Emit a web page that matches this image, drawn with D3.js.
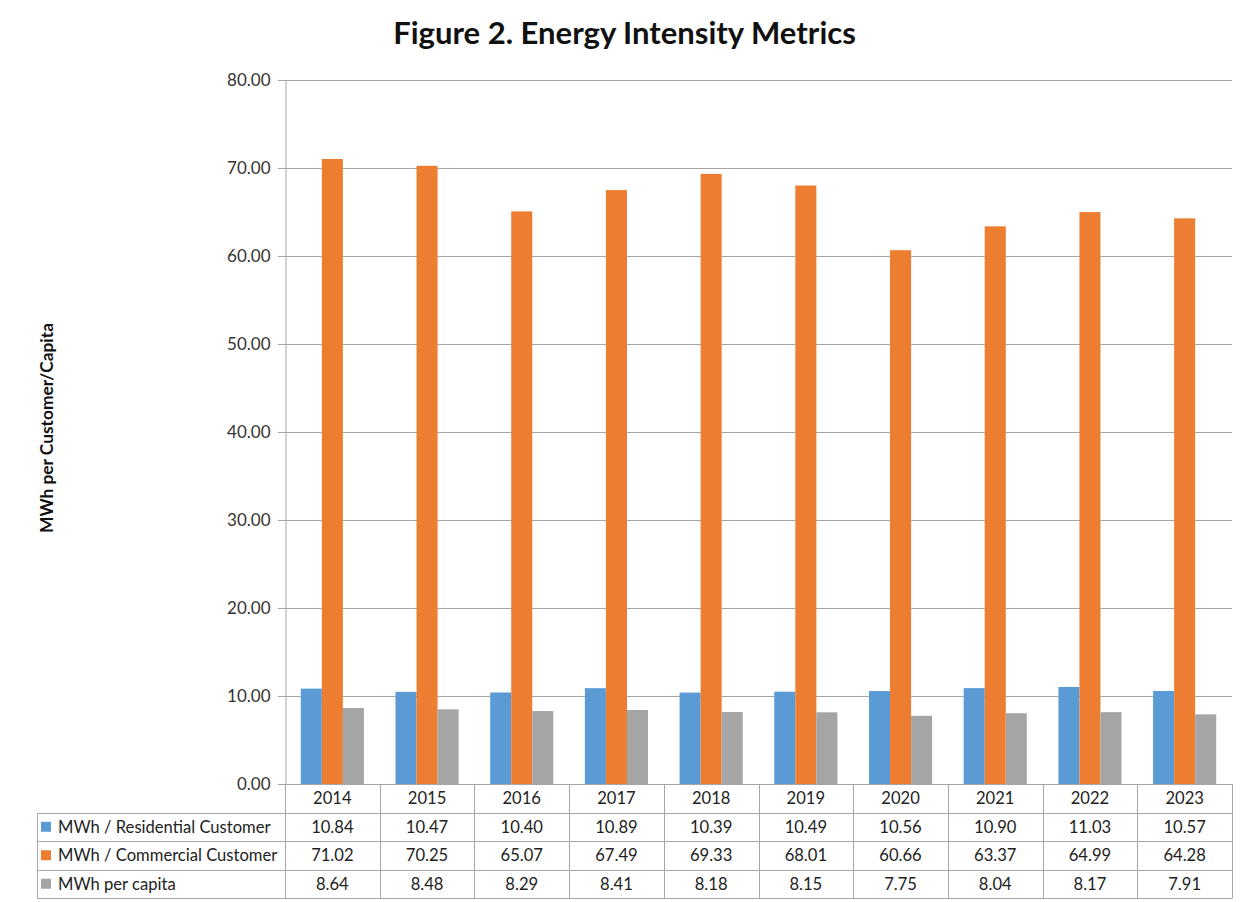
<!DOCTYPE html>
<html>
<head>
<meta charset="utf-8">
<script src="https://cdn.jsdelivr.net/npm/d3@7"></script>
<style>
  html, body { margin: 0; padding: 0; background: #fff; }
  svg { display: block; font-family: Lato, "Open Sans", sans-serif; }
</style>
</head>
<body>
<svg id="chart" width="1250" height="902"></svg>
<script>
const years = ["2014","2015","2016","2017","2018","2019","2020","2021","2022","2023"];
const seriesNames = ["MWh / Residential Customer","MWh / Commercial Customer","MWh per capita"];
const residential = [10.84,10.47,10.40,10.89,10.39,10.49,10.56,10.90,11.03,10.57];
const commercial  = [71.02,70.25,65.07,67.49,69.33,68.01,60.66,63.37,64.99,64.28];
const perCapita   = [8.64,8.48,8.29,8.41,8.18,8.15,7.75,8.04,8.17,7.91];
const yTicks = [0,10,20,30,40,50,60,70,80];
const colors = ["#5B9BD5","#ED7D31","#A5A5A5"];
const titleText = "Figure 2. Energy Intensity Metrics";
const yTitle = "MWh per Customer/Capita";

(function () {
const seriesValues = [residential, commercial, perCapita];

const svg = d3.select("#chart");
const pLeft = 285, pRight = 1232, pTop = 80, pBottom = 784;
const gridColor = "#A6A6A6";
const tableColor = "#A6A6A6";
const tableFont = 16.6;

const x0 = d3.scaleBand().domain(years).range([pLeft, pRight]).padding(0);
const x1 = d3.scaleBand().domain(d3.range(seriesNames.length))
  .range([0, x0.bandwidth()]).paddingInner(0).paddingOuter(0.75);
const y = d3.scaleLinear().domain([0, 80]).range([pBottom, pTop]);

function fitText(sel, target) {
  const w = sel.node().getComputedTextLength();
  const fs = parseFloat(sel.attr("font-size"));
  sel.attr("font-size", fs * target / w);
}
const t = svg.append("text").attr("x", (393 + 856) / 2).attr("y", 44)
  .attr("text-anchor", "middle").attr("font-weight", "bold")
  .attr("font-size", 28).attr("fill", "#111").text(titleText);
fitText(t, 463);

const yt = svg.append("text")
  .attr("transform", `translate(53,428) rotate(-90)`)
  .attr("text-anchor", "middle").attr("font-weight", "bold")
  .attr("font-size", 14).attr("fill", "#111").text(yTitle);
fitText(yt, 210);

// Grid lines
svg.append("g").selectAll("line").data(yTicks).join("line")
  .attr("x1", pLeft - 7).attr("x2", pRight)
  .attr("y1", d => Math.round(y(d)) + 0.5).attr("y2", d => Math.round(y(d)) + 0.5)
  .attr("stroke", gridColor).attr("stroke-width", 1);

// Y axis
const yAxis = d3.axisLeft(y).tickValues(yTicks).tickFormat(d3.format(".2f")).tickSize(0).tickPadding(15);
const ya = svg.append("g").attr("transform", `translate(${pLeft + 0.5},0.5)`).call(yAxis);
ya.select(".domain").attr("stroke", gridColor);
ya.selectAll("text").attr("font-size", 17).attr("fill", "#333").attr("font-family", "Lato, sans-serif");

// Bars
const groups = svg.append("g").selectAll("g").data(years).join("g")
  .attr("transform", d => `translate(${x0(d)},0)`);
groups.selectAll("rect")
  .data((d, i) => seriesValues.map((vals, s) => ({ s, v: vals[i] })))
  .join("rect")
  .attr("x", d => x1(d.s)).attr("width", x1.bandwidth())
  .attr("y", d => y(d.v)).attr("height", d => y(0) - y(d.v))
  .attr("fill", d => colors[d.s]);

// Data table
const rowH = 28.5;
const tableLeft = 37;
const rowsTop = pBottom + rowH;
const tbl = svg.append("g");
tbl.selectAll("text.yr").data(years).join("text").attr("class", "yr")
  .attr("x", d => x0(d) + x0.bandwidth() / 2).attr("y", pBottom + rowH / 2)
  .attr("dy", "0.35em").attr("text-anchor", "middle")
  .attr("font-size", tableFont).attr("fill", "#222").text(d => d);
const hLines = d3.range(seriesNames.length + 1).map(i => rowsTop + i * rowH);
tbl.selectAll("line.h").data(hLines).join("line").attr("class", "h")
  .attr("x1", tableLeft).attr("x2", pRight)
  .attr("y1", d => Math.round(d) + 0.5).attr("y2", d => Math.round(d) + 0.5)
  .attr("stroke", tableColor);
const vX = years.map(d => x0(d)).concat([pRight]);
const tableBottom = rowsTop + seriesNames.length * rowH;
tbl.selectAll("line.v").data(vX).join("line").attr("class", "v")
  .attr("x1", d => Math.round(d) + 0.5).attr("x2", d => Math.round(d) + 0.5)
  .attr("y1", pBottom).attr("y2", Math.round(tableBottom) + 0.5)
  .attr("stroke", tableColor);
tbl.append("line").attr("x1", tableLeft + 0.5).attr("x2", tableLeft + 0.5)
  .attr("y1", Math.round(rowsTop) + 0.5).attr("y2", Math.round(tableBottom) + 0.5)
  .attr("stroke", tableColor);
seriesNames.forEach((name, s) => {
  const cy = rowsTop + s * rowH + rowH / 2;
  tbl.append("rect").attr("x", 41).attr("y", cy - 5).attr("width", 10).attr("height", 10)
    .attr("fill", colors[s]);
  tbl.append("text").attr("x", 58).attr("y", cy).attr("dy", "0.35em")
    .attr("font-size", tableFont).attr("fill", "#222").text(name);
  tbl.selectAll(null).data(seriesValues[s]).join("text")
    .attr("x", (d, i) => x0(years[i]) + x0.bandwidth() / 2).attr("y", cy)
    .attr("dy", "0.35em").attr("text-anchor", "middle")
    .attr("font-size", tableFont).attr("fill", "#222").text(d => d3.format(".2f")(d));
});
})();
</script>
</body>
</html>
